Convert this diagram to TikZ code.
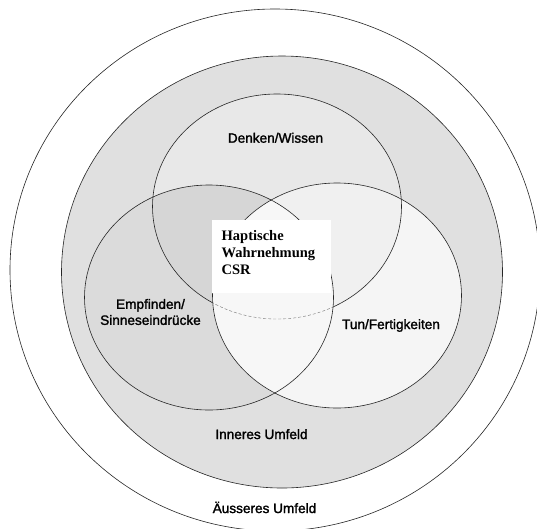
\documentclass[tikz,border=0pt]{standalone}
\usepackage{fontspec}
\setmainfont{Liberation Sans}
\newfontfamily\lblfont[FakeBold=1.6]{Liberation Sans}
\newfontfamily\boxserif{Liberation Serif}
\begin{document}
\begin{tikzpicture}[x=1pt,y=-1pt,
  ring/.style={draw=black!85,line width=0.6pt},
  lbl/.style={font=\lblfont\fontsize{13.6}{16}\selectfont,inner sep=0pt,text=black},
  boxtxt/.style={font=\boxserif\bfseries\fontsize{14.5}{17}\selectfont,inner sep=0pt,align=left,text=black}]
\useasboundingbox (0,0) rectangle (537,528);
\clip (0,0) rectangle (537,528);
\fill[white] (0,0) rectangle (537,528);
\def\outerE{(275,270) ellipse [x radius=265pt, y radius=261pt]}
\def\innerE{(282,272) ellipse [x radius=220.5pt, y radius=216pt]}
\def\topE{(277,206.5) ellipse [x radius=124.5pt, y radius=112.5pt]}
\def\leftE{(209,297.5) ellipse [x radius=124.5pt, y radius=112.5pt]}
\def\rightE{(337,295.5) ellipse [x radius=124.5pt, y radius=112.5pt]}
% fills
\fill[white] \outerE;
\fill[black!12] \innerE;
\fill[black!9] \topE;
\fill[black!14] \leftE;
\begin{scope}
  \clip \topE;
  \fill[black!16] \leftE;
\end{scope}
\fill[black!4] \rightE;
\begin{scope}
  \clip \topE;
  \fill[black!6] \rightE;
\end{scope}
% outlines
\draw[ring] \outerE;
\draw[ring] \innerE;
\draw[ring] \topE;
\begin{scope}
  \clip \leftE;
  \clip \rightE;
  \fill[black!3] (150,150) rectangle (400,450);
  \draw[black!55,line width=0.4pt,densely dashed] \topE;
\end{scope}
\draw[ring] \leftE;
\draw[ring] \rightE;
% central box
\node (box) [fill=white,inner sep=0pt,minimum width=119pt,minimum height=72.5pt] at (271.5,256.25) {};
\node (csr) [boxtxt,anchor=north west] at (221.5,230.2) {Haptische\\Wahrnehmung\\CSR};
% labels
\node (denken) [lbl,anchor=base] at (275.5,142.7) {Denken/Wissen};
\node (empf) [lbl,align=center] at (150.5,312) {Empfinden/\\Sinneseindrücke};
\node (tun) [lbl,anchor=base] at (391,329) {Tun/Fertigkeiten};
\node (inner) [lbl,anchor=base] at (261.5,439) {Inneres Umfeld};
\node (outer) [lbl,anchor=base] at (264.5,513) {Äusseres Umfeld};
\end{tikzpicture}
\end{document}
